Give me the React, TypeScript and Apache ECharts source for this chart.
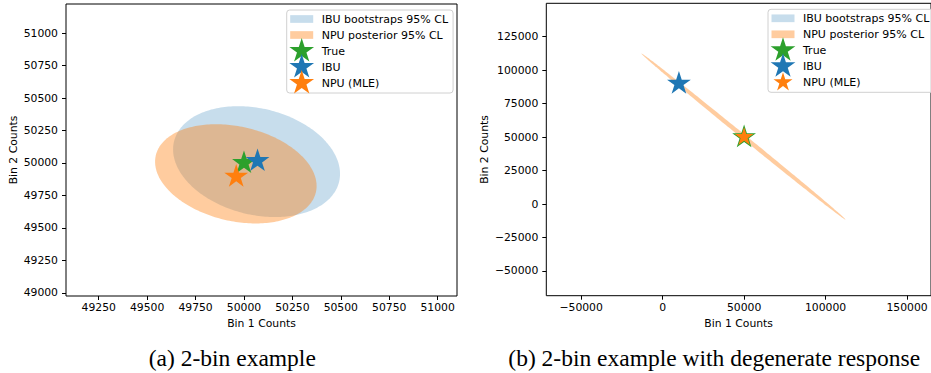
import React, { useEffect, useRef } from "react";
import * as echarts from "echarts";

// ---- data -------------------------------------------------------------
// confidence regions: [centerX, centerY, spreadX, spreadY, correlation]
const leftIbuRegion = [50065, 50010, 431, 427, -0.22];
const leftNpuRegion = [49958, 49916, 417, 382, -0.245];
const rightNpuRegion = [49600, 50400, 62600, 62000, -0.9994];

const leftTrue = [50000, 50000];
const leftIbu = [50070, 50015];
const leftNpu = [49960, 49895];
const rightTrue = [50000, 50000];
const rightIbu = [10000, 90000];
const rightNpu = [50000, 50000];

const leftXTicks = [49250, 49500, 49750, 50000, 50250, 50500, 50750, 51000];
const leftYTicks = [49000, 49250, 49500, 49750, 50000, 50250, 50500, 50750, 51000];
const rightXTicks = [-50000, 0, 50000, 100000, 150000];
const rightYTicks = [-50000, -25000, 0, 25000, 50000, 75000, 100000, 125000];

const leftXRange = [49081, 51100];
const leftYRange = [48975, 51224];
const rightXRange = [-71400, 164700];
const rightYRange = [-68450, 149950];

const seriesNames = ["IBU bootstraps 95% CL", "NPU posterior 95% CL", "True", "IBU", "NPU (MLE)"];
const captions = ["(a) 2-bin example", "(b) 2-bin example with degenerate response"];

// ---- style ------------------------------------------------------------
const BLUE = "#1f77b4";
const ORANGE = "#ff7f0e";
const GREEN = "#2ca02c";
const BLUE_FILL = "rgba(31,119,180,0.25)";
const ORANGE_FILL = "rgba(255,127,14,0.4)";
const FONT = "DejaVu Sans";

function starPath(pad: number): string {
  const pts: string[] = [];
  for (let i = 0; i < 10; i++) {
    const r = i % 2 === 0 ? 1 : 0.381966;
    const a = -Math.PI / 2 + (i * Math.PI) / 5;
    pts.push(`${(r * Math.cos(a)).toFixed(4)} ${(r * Math.sin(a)).toFixed(4)}`);
  }
  return `path://M${-pad} ${-pad} M${pad} ${pad} M${pts.join(" L")} Z`;
}
const STAR = starPath(1);
const STAR_SMALL = starPath(1.3);
const PATCH = "path://M-15 -13 M15 13 M-11.5 -3.85 L11.5 -3.85 L11.5 3.85 L-11.5 3.85 Z";

const fmt = (v: number) => String(v).replace("-", "\u2212");

function ellipseItem(params: any, api: any) {
  const cx = api.value(0);
  const cy = api.value(1);
  const sx = api.value(2);
  const sy = api.value(3);
  const r = api.value(4);
  const k = Math.sqrt(1 - r * r);
  const pts: number[][] = [];
  const n = 240;
  for (let i = 0; i < n; i++) {
    const t = (i / n) * Math.PI * 2;
    const c = Math.cos(t);
    const s = Math.sin(t);
    pts.push(api.coord([cx + sx * c, cy + sy * (r * c + k * s)]));
  }
  return {
    type: "polygon",
    shape: { points: pts },
    style: { fill: api.visual("color"), stroke: "none" },
  };
}

function makeAxis(gridIndex: number, range: number[], ticks: number[], name: string, isX: boolean, nameGap: number) {
  return {
    type: "value",
    gridIndex,
    min: range[0],
    max: range[1],
    name,
    nameLocation: "middle",
    nameGap,
    nameTextStyle: { fontFamily: FONT, fontSize: 10.8, color: "#000" },
    axisLine: { show: false, onZero: false },
    splitLine: { show: false },
    axisTick: {
      show: true,
      length: 4,
      inside: false,
      customValues: ticks,
      lineStyle: { color: "#000", width: 1 },
    },
    axisLabel: {
      show: true,
      customValues: ticks,
      formatter: fmt,
      fontFamily: FONT,
      fontSize: 10.8,
      color: "#000",
      margin: isX ? 6 : 8,
    },
  };
}

function makeLegend(left: number, top: number, smallNpu: boolean) {
  return {
    orient: "vertical",
    left,
    top,
    itemWidth: 30,
    itemHeight: 26,
    itemGap: -10,
    padding: [-4, 5, -3, 0],
    symbolKeepAspect: true,
    selectedMode: false,
    backgroundColor: "rgba(255,255,255,0.8)",
    borderColor: "#d0d0d0",
    borderWidth: 1,
    borderRadius: 3,
    textStyle: { fontFamily: FONT, fontSize: 11, color: "#000" },
    data: [
      { name: seriesNames[0], icon: PATCH },
      { name: seriesNames[1], icon: PATCH },
      { name: seriesNames[2], icon: STAR },
      { name: seriesNames[3], icon: STAR },
      { name: seriesNames[4], icon: smallNpu ? STAR_SMALL : STAR },
    ],
  };
}

function starSeries(name: string, xi: number, point: number[], color: string, size: number) {
  return {
    type: "scatter",
    name,
    xAxisIndex: xi,
    yAxisIndex: xi,
    symbol: STAR,
    symbolSize: size,
    itemStyle: { color, opacity: 1 },
    data: [point],
    z: 5,
  };
}

function regionSeries(name: string, xi: number, region: number[] | null, color: string) {
  return {
    type: "custom",
    name,
    xAxisIndex: xi,
    yAxisIndex: xi,
    clip: true,
    encode: { x: 0, y: 1 },
    itemStyle: { color },
    renderItem: ellipseItem,
    data: region ? [region] : [],
    z: 2,
  };
}

export default function App() {
  const ref = useRef<HTMLDivElement>(null);
  useEffect(() => {
    document.body.style.margin = "0";
    if (!ref.current) return;
    const chart = echarts.init(ref.current, undefined, { renderer: "svg" });
    const option: any = {
      animation: false,
      backgroundColor: "#fff",
      grid: [
        { left: 66, top: 4, width: 391, height: 292, show: true, borderColor: "#000", borderWidth: 1, backgroundColor: "transparent" },
        { left: 546.3, top: 3.3, width: 391, height: 292.4, show: true, borderColor: "#000", borderWidth: 1, backgroundColor: "transparent" },
      ],
      xAxis: [
        makeAxis(0, leftXRange, leftXTicks, "Bin 1 Counts", true, 21),
        makeAxis(1, rightXRange, rightXTicks, "Bin 1 Counts", true, 21),
      ],
      yAxis: [
        makeAxis(0, leftYRange, leftYTicks, "Bin 2 Counts", false, 47),
        makeAxis(1, rightYRange, rightYTicks, "Bin 2 Counts", false, 56),
      ],
      legend: [makeLegend(286.7, 10, false), makeLegend(768, 9.3, true)],
      series: [
        regionSeries(seriesNames[0], 0, leftIbuRegion, BLUE_FILL),
        regionSeries(seriesNames[1], 0, leftNpuRegion, ORANGE_FILL),
        starSeries(seriesNames[2], 0, leftTrue, GREEN, 25),
        starSeries(seriesNames[3], 0, leftIbu, BLUE, 25),
        starSeries(seriesNames[4], 0, leftNpu, ORANGE, 25),
        regionSeries(seriesNames[0], 1, null, BLUE_FILL),
        regionSeries(seriesNames[1], 1, rightNpuRegion, ORANGE_FILL),
        starSeries(seriesNames[2], 1, rightTrue, GREEN, 25),
        starSeries(seriesNames[3], 1, rightIbu, BLUE, 25),
        starSeries(seriesNames[4], 1, rightNpu, ORANGE, 19.5),
      ],
      graphic: [
        {
          type: "text",
          x: 232.3,
          y: 358,
          style: { text: captions[0], fontFamily: "Liberation Serif", fontSize: 23.5, fill: "#000", textAlign: "center", textVerticalAlign: "middle" },
        },
        {
          type: "text",
          x: 714.2,
          y: 358,
          style: { text: captions[1], fontFamily: "Liberation Serif", fontSize: 23.5, fill: "#000", textAlign: "center", textVerticalAlign: "middle" },
        },
      ],
    };
    chart.setOption(option);
    return () => chart.dispose();
  }, []);
  return <div ref={ref} style={{ width: 931, height: 373 }} />;
}
